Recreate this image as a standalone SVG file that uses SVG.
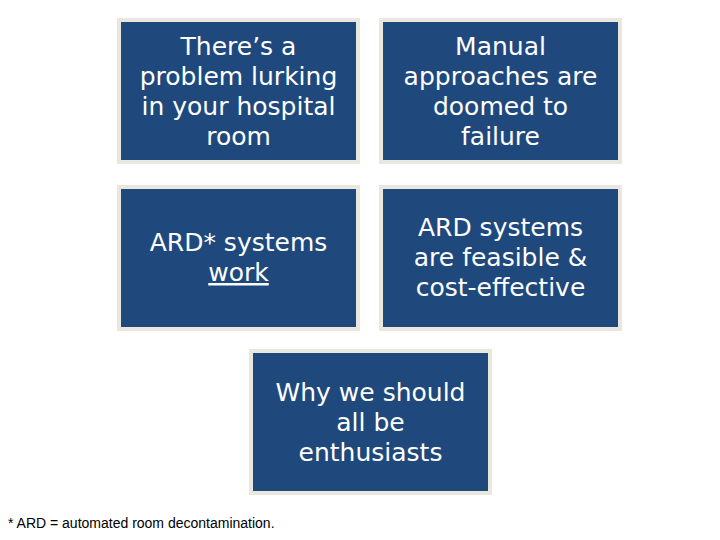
<svg xmlns="http://www.w3.org/2000/svg" width="720" height="540" viewBox="0 0 720 540">
<style>
.b{fill:#1f497d;stroke:#e9e7de;stroke-width:4}
.t{fill:#fff;font-family:"DejaVu Sans",Verdana,sans-serif;font-size:25px;text-anchor:middle}
.f{fill:#000;font-family:"Liberation Sans",Arial,sans-serif;font-size:14px}
</style>
<rect width="720" height="540" fill="#fff"/>
<g id="n1"><rect class="b" x="119" y="20" width="239" height="142"/>
<text class="t" x="238.5"><tspan x="238.5" y="55">There’s a</tspan><tspan x="238.5" y="85">problem lurking</tspan><tspan x="238.5" y="115">in your hospital</tspan><tspan x="238.5" y="145">room</tspan></text></g>
<g id="n2"><rect class="b" x="381" y="20" width="239" height="142"/>
<text class="t"><tspan x="500.5" y="55">Manual</tspan><tspan x="500.5" y="85">approaches are</tspan><tspan x="500.5" y="115">doomed to</tspan><tspan x="500.5" y="145">failure</tspan></text></g>
<g id="n3"><rect class="b" x="119" y="187" width="239" height="142"/>
<text class="t"><tspan x="238.5" y="251">ARD* systems</tspan><tspan x="238.5" y="281" text-decoration="underline">work</tspan></text></g>
<g id="n4"><rect class="b" x="381" y="187" width="239" height="142"/>
<text class="t"><tspan x="500.5" y="236">ARD systems</tspan><tspan x="500.5" y="266">are feasible &amp;</tspan><tspan x="500.5" y="296">cost-effective</tspan></text></g>
<g id="n5"><rect class="b" x="251" y="351" width="239" height="142"/>
<text class="t"><tspan x="370.5" y="401">Why we should</tspan><tspan x="370.5" y="431">all be</tspan><tspan x="370.5" y="461">enthusiasts</tspan></text></g>
<g id="connectors"/>
<text class="f" x="8" y="528">* ARD = automated room decontamination.</text>
</svg>
